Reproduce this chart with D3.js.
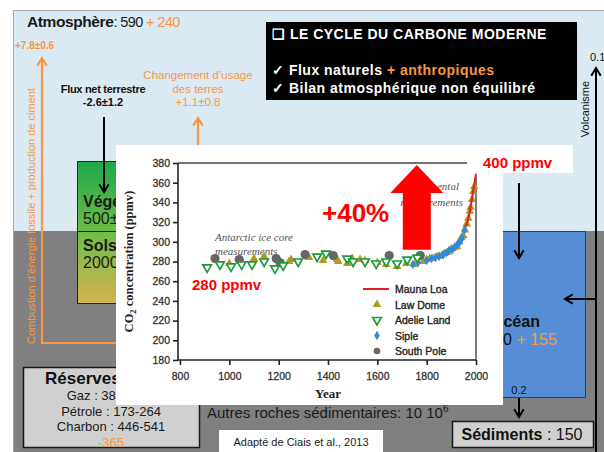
<!DOCTYPE html>
<html>
<head>
<meta charset="utf-8">
<script src="https://cdn.jsdelivr.net/npm/d3@7"></script>
<style>
  html, body { margin: 0; padding: 0; background: #fff; }
  svg { display: block; }
</style>
</head>
<body>
<svg id="chart" width="604" height="452" font-family="'Liberation Sans', Arial, sans-serif"></svg>
<script>
// ---- CO2 records (year, ppmv) ----
const maunaLoaYears = [1958, 1965, 1970, 1975, 1980, 1985, 1990, 1995, 2000];
const maunaLoaCO2   = [315, 320, 325, 331, 338, 346, 354, 361, 369];

const lawDomeYears = [1000, 1051, 1100, 1141, 1190, 1242, 1250, 1323, 1380, 1437, 1441, 1478, 1498, 1530, 1550, 1600, 1636, 1680, 1717, 1750, 1786, 1800, 1812, 1825, 1843, 1852, 1860, 1872, 1883, 1893, 1900, 1912, 1924, 1932, 1940, 1948, 1955, 1962, 1969, 1975, 1978, 1984, 1989, 1993];
const lawDomeCO2   = [278, 280, 283, 285, 283, 280, 282, 284, 281, 282, 280, 278, 283, 282, 281, 279, 277, 275, 278, 277, 280, 282, 283, 283, 285, 285, 286, 288, 289, 291, 293, 294, 295, 300, 304, 306, 312, 318, 324, 331, 335, 343, 351, 356];

const adelieYears = [910, 962, 1007, 1050, 1092, 1141, 1185, 1218, 1279, 1356, 1392, 1478, 1502, 1550, 1595, 1636, 1680, 1721, 1762];
const adelieCO2   = [274, 277, 275, 277, 277, 280, 273, 276, 280, 285, 288, 283, 280, 280, 278, 280, 278, 282, 284];

const sipleYears = [1744, 1765, 1800, 1820, 1835, 1850, 1867, 1880, 1890, 1903, 1915, 1924, 1935, 1944, 1953];
const sipleCO2   = [277, 279, 281, 283, 284, 285, 287, 289, 291, 292, 295, 297, 300, 304, 312];

const southPoleYears = [942, 1040, 1190, 1206, 1307, 1421, 1648, 1774];
const southPoleCO2   = [283, 282, 283, 279, 287, 286, 286, 286];

const yearTicks = [800, 1000, 1200, 1400, 1600, 1800, 2000];
const co2Ticks  = [180, 200, 220, 240, 260, 280, 300, 320, 340, 360, 380];

const legendLabels = ["Mauna Loa", "Law Dome", "Adelie Land", "Siple", "South Pole"];

// Pre-industrial and modern levels, and the rise arrow (year, from, to)
const preIndustrial = 280, modern = 400;
const riseArrow = { year: 1760, from: 292, to: 378 };

// ---- palette ----
const C = {
  sky: "#dbeaf2", ground: "#808080", ocean: "#558ed5", orange: "#f79646",
  box: "#d0d0d0", red: "#ff0000", law: "#b39a1c", adelie: "#1f9a3a",
  siple: "#2a8be0", pole: "#666666"
};
const SERIF = "'Liberation Serif', 'Times New Roman', serif";

const svg = d3.select("#chart");

// ---- background compartments ----
svg.append("rect").attr("x", 13).attr("y", 10).attr("width", 591).attr("height", 221).attr("fill", C.sky);
svg.append("rect").attr("x", 13).attr("y", 231).attr("width", 591).attr("height", 221).attr("fill", C.ground);
svg.append("line").attr("x1", 13).attr("x2", 604).attr("y1", 10.5).attr("y2", 10.5).attr("stroke", "#a6a6a6");
svg.append("line").attr("x1", 13.5).attr("x2", 13.5).attr("y1", 10).attr("y2", 452).attr("stroke", "#a6a6a6");

// vegetation + soils box
const defs = svg.append("defs");
const g1 = defs.append("linearGradient").attr("id", "veg").attr("x1", 0).attr("x2", 0).attr("y1", 0).attr("y2", 1);
g1.append("stop").attr("offset", "0%").attr("stop-color", "#1fa84a");
g1.append("stop").attr("offset", "50%").attr("stop-color", "#6fbd47");
g1.append("stop").attr("offset", "100%").attr("stop-color", "#d3b34e");
defs.append("clipPath").attr("id", "vegClip").append("rect").attr("x", 77).attr("y", 161).attr("width", 39).attr("height", 142);
svg.append("rect").attr("x", 77.5).attr("y", 161.5).attr("width", 130).attr("height", 142)
  .attr("fill", "url(#veg)").attr("stroke", "#222");
svg.append("line").attr("x1", 77).attr("x2", 210).attr("y1", 231.5).attr("y2", 231.5).attr("stroke", "#222");

// ocean
svg.append("rect").attr("x", 470.5).attr("y", 231.5).attr("width", 115).attr("height", 166)
  .attr("fill", C.ocean).attr("stroke", "#2d3f55");

// reserves & sediments boxes
svg.append("rect").attr("x", 23.5).attr("y", 367.5).attr("width", 176).attr("height", 80)
  .attr("fill", C.box).attr("stroke", "#1a1a1a").attr("stroke-width", 1.5);
svg.append("rect").attr("x", 452.5).attr("y", 421.5).attr("width", 141).attr("height", 26)
  .attr("fill", C.box).attr("stroke", "#1a1a1a").attr("stroke-width", 1.5);

// ---- arrows ----
function arrow(x1, y1, x2, y2, color, w) {
  const g = svg.append("g").attr("stroke", color).attr("stroke-width", w).attr("fill", "none");
  g.append("line").attr("x1", x1).attr("y1", y1).attr("x2", x2).attr("y2", y2);
  const a = Math.atan2(y2 - y1, x2 - x1), L = 9, s = 0.55;
  const p = [
    [x2 - L * Math.cos(a - s), y2 - L * Math.sin(a - s)],
    [x2, y2],
    [x2 - L * Math.cos(a + s), y2 - L * Math.sin(a + s)]
  ];
  g.append("path").attr("d", d3.line()(p)).attr("stroke-linejoin", "miter");
}

// fossil fuel emissions
svg.append("line").attr("x1", 42).attr("x2", 120).attr("y1", 343).attr("y2", 343).attr("stroke", C.orange).attr("stroke-width", 2);
arrow(42, 344, 42, 58, C.orange, 2.2);
// land use change
arrow(198, 150, 198, 118, C.orange, 2.2);
// net land flux
arrow(104, 117, 104, 192, "#000", 2);
// ocean uptake
arrow(519, 183, 519, 258, "#000", 2);
// volcanism
arrow(596, 452, 596, 68, "#000", 2);
arrow(596, 299, 565, 299, "#000", 2);
// sedimentation
arrow(519, 398, 519, 417, "#000", 2);

// ---- texts of the cycle ----
const atm = svg.append("text").attr("x", 27).attr("y", 27).attr("font-size", 15.5).attr("fill", "#1a1a1a");
atm.append("tspan").attr("font-weight", "bold").attr("letter-spacing", -0.4).text("Atmosphère");
atm.append("tspan").attr("font-size", 14.5).attr("letter-spacing", -0.6).text(": 590");
atm.append("tspan").attr("font-size", 14.5).attr("letter-spacing", -0.6).attr("fill", C.orange).text(" + 240");

svg.append("text").attr("x", 15).attr("y", 49).attr("font-size", 10).attr("font-weight", "bold")
  .attr("fill", C.orange).text("+7.8±0.6");

svg.append("text").attr("transform", "translate(35,216) rotate(-90)").attr("text-anchor", "middle")
  .attr("font-size", 11).attr("fill", C.orange)
  .text("Combustion d’énergie fossile + production de ciment");

svg.append("text").attr("x", 103).attr("y", 93).attr("text-anchor", "middle").attr("font-size", 11)
  .attr("font-weight", "bold").attr("fill", "#111").attr("letter-spacing", -0.3).text("Flux net terrestre");
svg.append("text").attr("x", 103).attr("y", 106).attr("text-anchor", "middle").attr("font-size", 11)
  .attr("font-weight", "bold").attr("fill", "#111").text("-2.6±1.2");

[["Changement d’usage", 79], ["des terres", 93], ["+1.1±0.8", 106]].forEach(([t, y]) =>
  svg.append("text").attr("x", 198).attr("y", y).attr("text-anchor", "middle").attr("font-size", 11.5)
    .attr("fill", C.orange).text(t));

// stock labels, partly covered by the CO2 panel
const vegText = svg.append("g").attr("clip-path", "url(#vegClip)");
[["Végétation", 207], ["500±100", 224], ["Sols", 251], ["2000±500", 268]].forEach(([t, y], i) =>
  vegText.append("text").attr("x", 83).attr("y", y).attr("font-size", 16)
    .attr("font-weight", i % 2 === 0 ? "bold" : "normal").attr("fill", "#1a1a1a").text(t));

svg.append("text").attr("x", 491).attr("y", 327).attr("font-size", 16).attr("font-weight", "bold").attr("fill", "#111").text("Océan");
const oc2 = svg.append("text").attr("x", 463).attr("y", 345).attr("font-size", 16).attr("fill", "#111");
oc2.append("tspan").text("38 000");
oc2.append("tspan").attr("fill", C.orange).text(" + 155");

svg.append("text").attr("x", 519).attr("y", 394).attr("text-anchor", "middle").attr("font-size", 11).attr("fill", "#111").text("0.2");
svg.append("text").attr("x", 590).attr("y", 61).attr("font-size", 11).attr("fill", "#111").text("0.1");
svg.append("text").attr("transform", "translate(589,109) rotate(-90)").attr("text-anchor", "middle")
  .attr("font-size", 11).attr("fill", "#111").text("Volcanisme");

const sed = svg.append("text").attr("x", 522).attr("y", 440).attr("text-anchor", "middle").attr("font-size", 16).attr("fill", "#111");
sed.append("tspan").attr("font-weight", "bold").text("Sédiments");
sed.append("tspan").text(" : 150");

svg.append("text").attr("x", 45).attr("y", 384).attr("font-size", 17).attr("font-weight", "bold").attr("fill", "#111").text("Réserves");
[["Gaz : 383-1135", 400], ["Pétrole : 173-264", 416], ["Charbon : 446-541", 431]].forEach(([t, y]) =>
  svg.append("text").attr("x", 111).attr("y", y).attr("text-anchor", "middle").attr("font-size", 13).attr("fill", "#1a1a1a").text(t));
svg.append("text").attr("x", 111).attr("y", 447).attr("text-anchor", "middle").attr("font-size", 13).attr("fill", C.orange).text("-365");

const roc = svg.append("text").attr("x", 207).attr("y", 418).attr("font-size", 15).attr("fill", "#1a1a1a");
roc.append("tspan").text("Autres roches sédimentaires: 10 10");
roc.append("tspan").attr("font-size", 10).attr("dy", -6).text("6");

// ---- title box ----
svg.append("rect").attr("x", 266).attr("y", 22).attr("width", 311).attr("height", 78).attr("fill", "#000");
const titleText = (yy) => svg.append("text").attr("x", 272).attr("y", yy).attr("font-size", 14)
  .attr("font-weight", "bold").attr("letter-spacing", 0.5).attr("fill", "#fff");
titleText(39).text("❑ LE CYCLE  DU CARBONE  MODERNE");
const t2 = titleText(75);
t2.append("tspan").text("✓  Flux naturels ");
t2.append("tspan").attr("fill", C.orange).text("+ anthropiques");
titleText(93).text("✓  Bilan atmosphérique non équilibré");

// ---- CO2 chart panel ----
svg.append("rect").attr("x", 116).attr("y", 145).attr("width", 387).attr("height", 260).attr("fill", "#fff");
svg.append("rect").attr("x", 475).attr("y", 145).attr("width", 98).attr("height", 28).attr("fill", "#fff");

const x = d3.scaleLinear().domain([800, 2000]).range([180, 476]);
const y = d3.scaleLinear().domain([180, 380]).range([360, 163]);

const axisStyle = g => {
  g.attr("font-family", null);
  g.selectAll("path, line").attr("stroke", "#222").attr("stroke-width", 1.6);
  g.selectAll("text").attr("font-size", 10.5)
    .attr("fill", "#333").attr("stroke", "#333").attr("stroke-width", 0.3);
};
svg.append("g").attr("transform", "translate(178,0)")
  .call(d3.axisLeft(y).tickValues(co2Ticks).tickSize(5).tickSizeOuter(0).tickPadding(3).tickFormat(d3.format("d")))
  .call(axisStyle).call(g => g.select(".domain").attr("d", `M0,${y(380)}V${y(180)}`));
svg.append("g").attr("transform", `translate(0,${y(180)})`)
  .call(d3.axisBottom(x).tickValues(yearTicks).tickSize(5).tickSizeOuter(0).tickPadding(8).tickFormat(d3.format("d")))
  .call(axisStyle).call(g => g.select(".domain").attr("d", `M178,0H${x(2000)}`));
// frame top and right
svg.append("line").attr("x1", 178).attr("x2", 467).attr("y1", y(380)).attr("y2", y(380)).attr("stroke", "#444").attr("stroke-width", 1.4);
svg.append("line").attr("x1", x(2000)).attr("x2", x(2000)).attr("y1", 177).attr("y2", y(180)).attr("stroke", "#444").attr("stroke-width", 1.4);

svg.append("text").attr("x", x(1400)).attr("y", 398).attr("text-anchor", "middle")
  .attr("font-family", SERIF).attr("font-weight", "bold").attr("font-size", 13).attr("fill", "#222").text("Year");
const yl = svg.append("text").attr("transform", `translate(133,${y(280)}) rotate(-90)`).attr("text-anchor", "middle")
  .attr("font-family", SERIF).attr("font-weight", "bold").attr("font-size", 12.5).attr("fill", "#222");
yl.append("tspan").text("CO");
yl.append("tspan").attr("font-size", 8.5).attr("dy", 3).text("2");
yl.append("tspan").attr("dy", -3).text(" concentration (ppmv)");

// annotations in the plot
[["Antarctic ice core", 241], ["measurements", 255]].forEach(([t, yy]) =>
  svg.append("text").attr("x", 215).attr("y", yy).attr("font-family", SERIF)
    .attr("font-style", "italic").attr("font-size", 11).attr("fill", "#555").text(t));
[["Instrumental", 190, 459], ["measurements", 206, 463]].forEach(([t, yy, xx]) =>
  svg.append("text").attr("x", xx).attr("y", yy).attr("text-anchor", "end").attr("font-family", SERIF)
    .attr("font-style", "italic").attr("font-size", 11).attr("fill", "#555").text(t));

// series
const zip = (xs, ys) => xs.map((v, i) => [v, ys[i]]);
const tri = d3.symbol().type(d3.symbolTriangle).size(32);
const dia = d3.symbol().type(d3.symbolDiamond).size(26);
svg.append("g").selectAll("path").data(zip(lawDomeYears, lawDomeCO2)).join("path")
  .attr("d", tri).attr("transform", d => `translate(${x(d[0])},${y(d[1])})`).attr("fill", C.law);
svg.append("g").selectAll("path").data(zip(sipleYears, sipleCO2)).join("path")
  .attr("d", dia).attr("transform", d => `translate(${x(d[0])},${y(d[1])})`).attr("fill", C.siple);
svg.append("g").selectAll("circle").data(zip(southPoleYears, southPoleCO2)).join("circle")
  .attr("cx", d => x(d[0])).attr("cy", d => y(d[1])).attr("r", 4.6).attr("fill", C.pole);
svg.append("g").selectAll("path").data(zip(adelieYears, adelieCO2)).join("path")
  .attr("d", tri).attr("transform", d => `translate(${x(d[0])},${y(d[1])}) rotate(180)`)
  .attr("fill", "#fff").attr("stroke", C.adelie).attr("stroke-width", 1.7);
svg.append("path").datum(zip(maunaLoaYears, maunaLoaCO2))
  .attr("d", d3.line().x(d => x(d[0])).y(d => y(d[1]))).attr("fill", "none").attr("stroke", "#e02020").attr("stroke-width", 2);

// legend
const lg = svg.append("g");
legendLabels.forEach((lab, i) => {
  const cy = 289 + i * 15.5;
  if (i === 0) lg.append("line").attr("x1", 363).attr("x2", 389).attr("y1", cy).attr("y2", cy).attr("stroke", "#e02020").attr("stroke-width", 2);
  else if (i === 1) lg.append("path").attr("d", tri).attr("transform", `translate(377,${cy})`).attr("fill", C.law);
  else if (i === 2) lg.append("path").attr("d", tri).attr("transform", `translate(377,${cy}) rotate(180)`).attr("fill", "#fff").attr("stroke", C.adelie).attr("stroke-width", 1.7);
  else if (i === 3) lg.append("path").attr("d", dia).attr("transform", `translate(377,${cy})`).attr("fill", C.siple);
  else lg.append("circle").attr("cx", 377).attr("cy", cy).attr("r", 3.3).attr("fill", C.pole);
  lg.append("text").attr("x", 395).attr("y", cy + 4).attr("font-size", 10.5).attr("fill", "#222")
    .attr("stroke", "#222").attr("stroke-width", 0.35).text(lab);
});

// big rise arrow
const ax = x(riseArrow.year), yb = y(riseArrow.from), yt = y(riseArrow.to);
const head = 28, hw = 26.5, sw = 14;
svg.append("path").attr("fill", "#ff0000").attr("d", d3.line()([
  [ax - sw, yb], [ax - sw, yt + head], [ax - hw, yt + head], [ax, yt],
  [ax + hw, yt + head], [ax + sw, yt + head], [ax + sw, yb]
]) + "Z");

svg.append("text").attr("x", 322).attr("y", 222).attr("font-size", 26).attr("font-weight", "bold").attr("fill", C.red).text("+40%");
svg.append("text").attr("x", 192).attr("y", 290).attr("font-size", 15).attr("font-weight", "bold").attr("fill", C.red)
  .text(`${preIndustrial} ppmv`);
svg.append("text").attr("x", 483).attr("y", 168).attr("font-size", 15).attr("font-weight", "bold").attr("fill", C.red)
  .text(`${modern} ppmv`);

// credit
svg.append("rect").attr("x", 219).attr("y", 430).attr("width", 164).attr("height", 22).attr("fill", "#fff");
svg.append("text").attr("x", 301).attr("y", 446).attr("text-anchor", "middle").attr("font-size", 11).attr("fill", "#222")
  .text("Adapté de Ciais et al., 2013");
</script>
</body>
</html>
